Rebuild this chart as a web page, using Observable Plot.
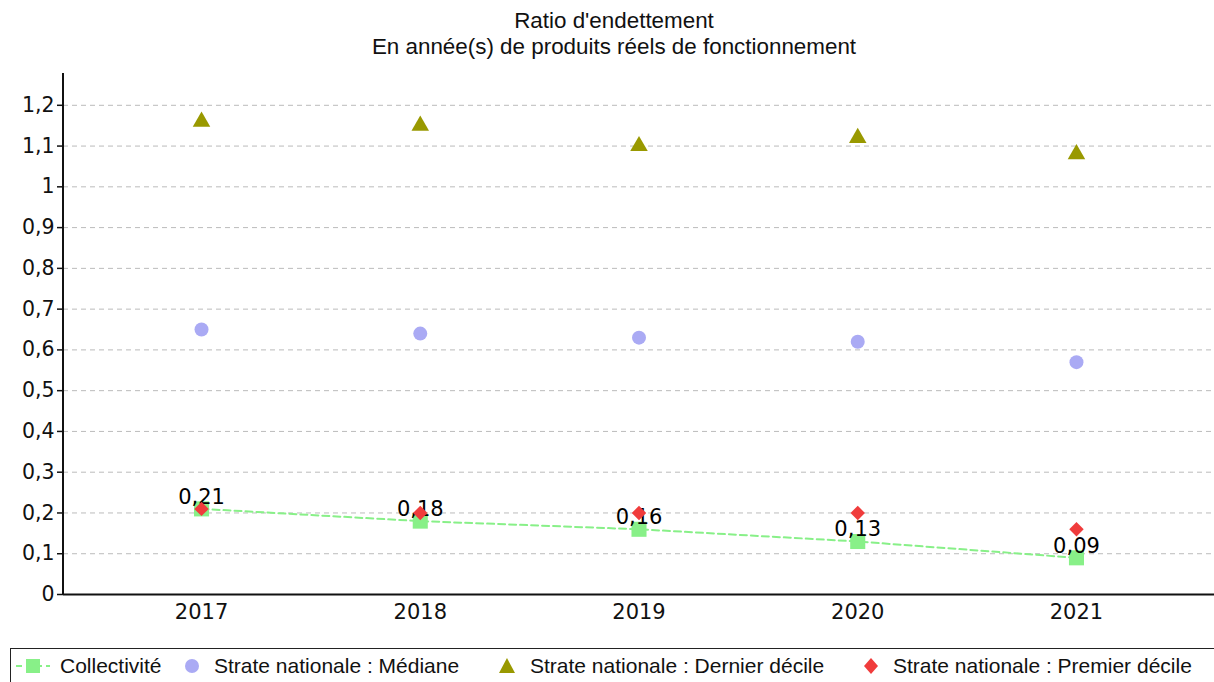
<!DOCTYPE html>
<html><head><meta charset="utf-8">
<script src="https://cdn.jsdelivr.net/npm/d3@7"></script>
<script src="https://cdn.jsdelivr.net/npm/@observablehq/plot@0.6"></script>
<style>
body{margin:0;background:#fff;width:1214px;height:682px;overflow:hidden;position:relative;font-family:"Liberation Sans",Arial,sans-serif;}
#title{position:absolute;top:8px;left:0;width:1228px;text-align:center;font-size:22.4px;line-height:26px;color:#111;}
#chart{position:absolute;top:60px;left:0;}
#chart svg, #chart svg text{font-family:"DejaVu Sans" !important;}
#legend{position:absolute;top:648px;left:10px;width:1220px;height:40px;border:1.5px solid #222;box-sizing:border-box;font-size:21px;color:#111;}
.item{position:absolute;top:5px;display:flex;align-items:center;white-space:nowrap;}
.item svg{margin-right:13px;}
.item:first-child svg{margin-right:9px;}
</style></head>
<body>
<div id="title">Ratio d'endettement<br>En année(s) de produits réels de fonctionnement</div>
<div id="chart"></div>
<div id="legend"></div>
<script>
const years = ["2017","2018","2019","2020","2021"];
const collectivite = [0.21, 0.18, 0.16, 0.13, 0.09];
const mediane = [0.65, 0.64, 0.63, 0.62, 0.57];
const dernierDecile = [1.16, 1.15, 1.10, 1.12, 1.08];
const premierDecile = [0.21, 0.20, 0.20, 0.20, 0.16];
const yTicks = [0, 0.1, 0.2, 0.3, 0.4, 0.5, 0.6, 0.7, 0.8, 0.9, 1, 1.1, 1.2];
const seriesNames = ["Collectivité", "Strate nationale : Médiane", "Strate nationale : Dernier décile", "Strate nationale : Premier décile"];
const colors = {green:"#88f088", lav:"#aaaaf4", olive:"#999900", red:"#f03c3c"};

const rows = (vals) => years.map((y,i)=>({year:y, value:vals[i]}));
const fmt = d => String(d).replace(".", ",");
const FF = "DejaVu Sans";

const chart = Plot.plot({
  width: 1214,
  height: 585,
  marginTop: 13,
  marginBottom: 51,
  marginLeft: 63,
  marginRight: 0,
  style: {fontFamily: FF, fontSize: "21px", color: "#111", background: "#fff"},
  x: {type: "point", domain: years, padding: 0.631, round: false, label: null},
  y: {domain: [0, 1.278], label: null},
  marks: [
    Plot.gridY(yTicks, {stroke: "#bbb", strokeOpacity: 1, strokeDasharray: "5,4", strokeWidth: 1}),
    Plot.axisY(yTicks, {tickFormat: fmt, tickSize: 6, tickPadding: 3, fontSize: 20.5, fontFamily: FF, stroke: "#111", strokeWidth: 1.5}),
    Plot.axisX({tickSize: 0, tickPadding: 10, fontSize: 21, fontFamily: FF}),
    Plot.line(rows(collectivite), {x: "year", y: "value", stroke: colors.green, strokeWidth: 2, strokeDasharray: "7,4"}),
    Plot.dot(rows(collectivite), {x: "year", y: "value", symbol: "square", r: 8.5, fill: colors.green}),
    Plot.dot(rows(mediane), {x: "year", y: "value", symbol: "circle", r: 7, fill: colors.lav}),
    Plot.dot(rows(dernierDecile), {x: "year", y: "value", symbol: "triangle", r: 6.5, fill: colors.olive}),
    Plot.text(rows(collectivite), {x: "year", y: "value", text: d => fmt(d.value), dy: -12, fontSize: 21, fontFamily: FF, fill: "#000"}),
    Plot.dot(rows(premierDecile), {x: "year", y: "value", symbol: "diamond2", r: 6.5, fill: colors.red}),
    Plot.ruleY([0], {stroke: "#111", strokeWidth: 2})
  ]
});
const svg = d3.select(chart);
svg.append("line").attr("x1", 63).attr("x2", 63).attr("y1", 13).attr("y2", 534).attr("stroke", "#111").attr("stroke-width", 2);
document.getElementById("chart").appendChild(chart);

const legend = document.getElementById("legend");
const syms = [
  `<svg width="36" height="20"><line x1="1" y1="10" x2="35" y2="10" stroke="${colors.green}" stroke-width="2" stroke-dasharray="6,4"/><rect x="11" y="3" width="14" height="14" fill="${colors.green}"/></svg>`,
  `<svg width="18" height="20"><circle cx="9" cy="10" r="7" fill="${colors.lav}"/></svg>`,
  `<svg width="20" height="20"><polygon points="10,2 18,17 2,17" fill="${colors.olive}"/></svg>`,
  `<svg width="18" height="20"><polygon points="9,2 16,10 9,18 2,10" fill="${colors.red}"/></svg>`
];
const lefts = [4, 172, 486, 851];
seriesNames.forEach((n,i)=>{
  const d = document.createElement("div");
  d.className = "item";
  d.style.left = lefts[i] + "px";
  d.innerHTML = syms[i] + "<span>" + n + "</span>";
  legend.appendChild(d);
});
</script>
</body></html>
